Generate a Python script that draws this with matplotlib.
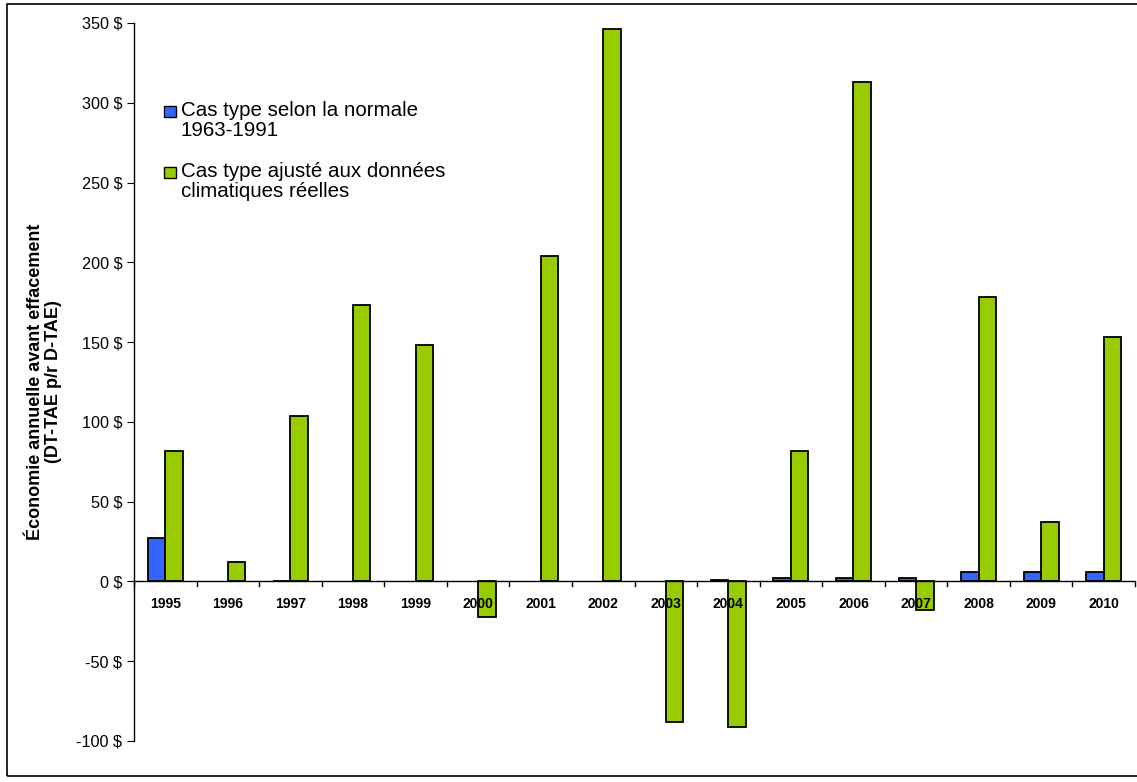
import numpy as np
import matplotlib.pyplot as plt
from matplotlib.patches import Rectangle

plt.rcParams['font.family'] = ['Liberation Sans', 'DejaVu Sans']

years = ['1995', '1996', '1997', '1998', '1999', '2000', '2001', '2002',
         '2003', '2004', '2005', '2006', '2007', '2008', '2009', '2010']
normale = [27.5, 0, 0.3, 0, 0, 0, 0, 0, 0, 1.2, 2.4, 2.4, 2.4, 6.0, 5.8, 5.8]
reelles = [82, 12, 104, 173, 148, -22, 204, 346, -88, -91, 82, 313, -18, 178, 37.5, 153]
labels = ['Cas type selon la normale\n1963-1991',
          'Cas type ajusté aux données\nclimatiques réelles']
colors = ['#3366FF', '#99CC00']

fig = plt.figure(figsize=(11.37, 7.82), dpi=100)
ax = fig.add_axes([134 / 1137, 41 / 782, (1135 - 134) / 1137, (759 - 41) / 782])

x = np.arange(len(years))
w = 0.28
# empty years get no outline at all
lw_n = [1.3 if v != 0 else 0 for v in normale]
lw_r = [1.3 if v != 0 else 0 for v in reelles]
ax.bar(x - w / 2, normale, w, color=colors[0], edgecolor='black', linewidth=lw_n)
ax.bar(x + w / 2, reelles, w, color=colors[1], edgecolor='black', linewidth=lw_r)

ax.set_xlim(-0.5, len(years) - 0.5)
ax.set_ylim(-100, 350)
ax.set_yticks(np.arange(-100, 351, 50))
ax.set_yticklabels([f'{v} $' for v in range(-100, 351, 50)], fontsize=11.7)
ax.tick_params(axis='y', direction='out', length=5, pad=3.5)

for s in ['top', 'right', 'bottom']:
    ax.spines[s].set_visible(False)
ax.spines['left'].set_linewidth(1)
ax.axhline(0, color='black', linewidth=1)

# category ticks sit on the zero line, pointing down, at the category boundaries
ax.set_xticks([])
for b in np.arange(-0.5, len(years) + 0.5, 1):
    ax.plot([b, b], [0, -3], color='black', linewidth=1, clip_on=False)
for xi, yr in zip(x, years):
    ax.text(xi, -14, yr, ha='center', va='center', fontsize=10, fontweight='bold')

ax.set_ylabel('Économie annuelle avant effacement\n(DT-TAE p/r D-TAE)',
              fontsize=13, fontweight='bold', linespacing=1.05)
ax.yaxis.set_label_coords(-0.072, 0.5)

# legend drawn by hand so the swatches line up with the first text line
legend_rows = [(106, labels[0]), (167, labels[1])]
for (ytop, text), c in zip(legend_rows, colors):
    fig.patches.append(Rectangle((164 / 1137, 1 - (ytop + 11) / 782), 12 / 1137, 11 / 782,
                                 transform=fig.transFigure, facecolor=c,
                                 edgecolor='black', linewidth=1))
    fig.text(181 / 1137, 1 - (ytop - 5) / 782, text, fontsize=14.8,
             va='top', ha='left', linespacing=1.08)

# outer frame around the chart area
fig.patches.append(Rectangle((7 / 1137, 6 / 782), 1.0, 1 - 10 / 782,
                             transform=fig.transFigure, fill=False,
                             edgecolor='black', linewidth=1.2))

fig.savefig('out.png', dpi=100)
